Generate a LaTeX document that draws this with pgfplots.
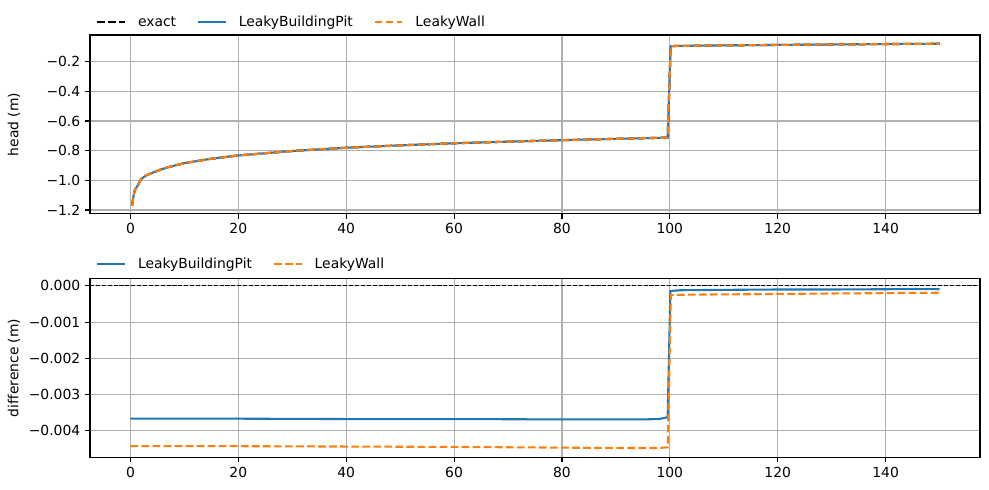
\documentclass[border=0pt]{standalone}
\usepackage{fontspec}
\setmainfont{DejaVu Sans}
\usepackage{pgfplots}
\pgfplotsset{compat=1.18}
\definecolor{mblue}{HTML}{1F77B4}
\definecolor{morange}{HTML}{FF7F0E}
\definecolor{mgrid}{HTML}{B0B0B0}
\pgfplotsset{
  mpl/.style={
    scale only axis, width=640.8pt,
    xmin=-7.5, xmax=157.5,
    axis line style={line width=0.8pt},
    grid=major, major grid style={mgrid, line width=0.8pt},
    tick align=outside, major tick length=3.5pt,
    every tick/.style={black, line width=0.8pt},
    xtick pos=bottom, ytick pos=left,
    xtick={0,20,40,60,80,100,120,140},
    xticklabels={0,20,40,60,80,100,120,140},
    scaled y ticks=false,
    ticklabel style={font=\fontsize{10}{12}\selectfont},
    label style={font=\fontsize{10}{12}\selectfont},
    ylabel style={at={(axis description cs:-0.0855,0.5)}, anchor=center},
    legend style={at={(axis description cs:0,1)}, anchor=south west, draw=none, fill=none,
      font=\fontsize{10}{12}\selectfont, xshift=4.3pt, yshift=0.3pt,
      inner xsep=0pt, inner ysep=2pt,
      nodes={inner xsep=0pt, inner ysep=2pt},
      cells={anchor=west},
      /tikz/every even column/.append style={column sep=15pt},
      /tikz/every odd column/.append style={column sep=8.6pt}},
    legend columns=3,
  },
  dsh/.style={dash pattern=on 5.55pt off 2.4pt},
}
\begin{document}
\begin{tikzpicture}
\path (0,0) rectangle (712.1pt,352.8pt);
\begin{axis}[mpl, at={(64.8pt,198.9pt)}, anchor=south west, height=128.7pt,
  legend image code/.code={\draw[#1] (0pt,0pt) -- (20pt,0pt);},
  ymin=-1.225, ymax=-0.02,
  ytick={-1.2,-1.0,-0.8,-0.6,-0.4,-0.2},
  yticklabels={−1.2,−1.0,−0.8,−0.6,−0.4,−0.2},
  ylabel={head (m)}]
\addplot[black, line width=1.5pt, dsh] coordinates {
(0.3,-1.171) (0.5,-1.120) (0.8,-1.065) (1.4,-1.031) (2,-0.990) (3,-0.965) (4,-0.950) (5.4,-0.930)
(7,-0.911) (10,-0.884) (15,-0.854) (20,-0.832) (30,-0.802) (40,-0.780) (50,-0.764)
(60,-0.750) (70,-0.739) (80,-0.729) (90,-0.720) (99.6,-0.712) (100.15,-0.096)
(101,-0.094) (110,-0.090) (120,-0.087) (130,-0.084) (140,-0.081) (150,-0.079)};
\addlegendentry{exact}
\addplot[mblue, line width=1.5pt] coordinates {
(0.3,-1.171) (0.5,-1.120) (0.8,-1.065) (1.4,-1.031) (2,-0.990) (3,-0.965) (4,-0.950) (5.4,-0.930)
(7,-0.911) (10,-0.884) (15,-0.854) (20,-0.832) (30,-0.802) (40,-0.780) (50,-0.764)
(60,-0.750) (70,-0.739) (80,-0.729) (90,-0.720) (99.6,-0.712) (100.15,-0.096)
(101,-0.094) (110,-0.090) (120,-0.087) (130,-0.084) (140,-0.081) (150,-0.079)};
\addlegendentry{LeakyBuildingPit}
\addplot[morange, line width=1.5pt, dsh] coordinates {
(0.3,-1.171) (0.5,-1.120) (0.8,-1.065) (1.4,-1.031) (2,-0.990) (3,-0.965) (4,-0.950) (5.4,-0.930)
(7,-0.911) (10,-0.884) (15,-0.854) (20,-0.832) (30,-0.802) (40,-0.780) (50,-0.764)
(60,-0.750) (70,-0.739) (80,-0.729) (90,-0.720) (99.6,-0.712) (100.15,-0.096)
(101,-0.094) (110,-0.090) (120,-0.087) (130,-0.084) (140,-0.081) (150,-0.079)};
\addlegendentry{LeakyWall}
\end{axis}
\begin{axis}[mpl, at={(64.8pt,23.3pt)}, anchor=south west, height=129.2pt,
  legend image code/.code={\draw[#1] (0pt,0pt) -- (20pt,0pt);},
  ymin=-0.004746, ymax=0.000213,
  ytick={-0.004,-0.003,-0.002,-0.001,0},
  yticklabels={−0.004,−0.003,−0.002,−0.001,0.000},
  ylabel={difference (m)}, legend columns=2, legend style={yshift=1.2pt}]
\addplot[mblue, line width=1.5pt] coordinates {
(0,-0.00367) (20,-0.00367) (40,-0.00368) (60,-0.00368) (80,-0.00369) (90,-0.00369)
(95,-0.00369) (98,-0.00368) (99.6,-0.00363) (100.1,-0.00014) (102,-0.00012)
(110,-0.00011) (120,-0.00010) (130,-0.00010) (140,-0.000092) (150,-0.000090)};
\addlegendentry{LeakyBuildingPit}
\addplot[morange, line width=1.5pt, dsh] coordinates {
(0,-0.00443) (20,-0.00443) (40,-0.00444) (60,-0.00445) (80,-0.00447) (90,-0.00448)
(98,-0.00448) (99.6,-0.00446) (100.2,-0.00025) (105,-0.00024) (115,-0.00023)
(130,-0.00021) (150,-0.00019)};
\addlegendentry{LeakyWall}
\addplot[black, line width=0.8pt, dash pattern=on 2.96pt off 1.28pt, forget plot] coordinates {(-7.5,0) (157.5,0)};
\end{axis}
\end{tikzpicture}
\end{document}
